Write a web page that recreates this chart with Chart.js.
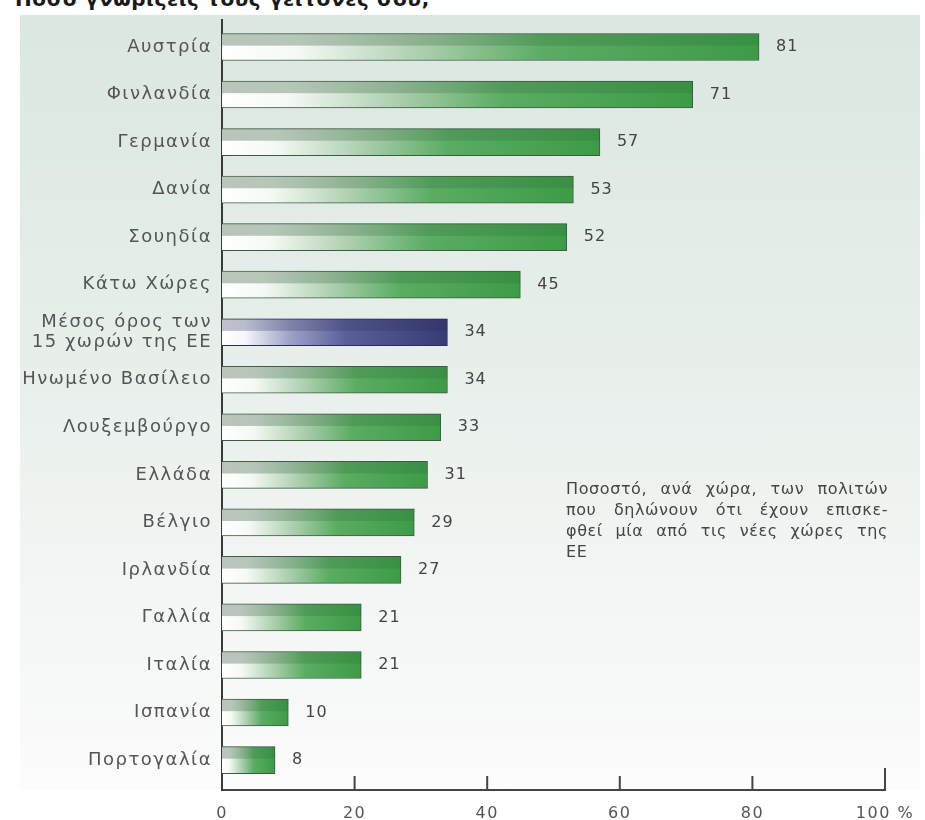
<!DOCTYPE html>
<html>
<head>
<meta charset="utf-8">
<script src="https://cdn.jsdelivr.net/npm/chart.js@4.4.0/dist/chart.umd.min.js"></script>
<style>
  html, body { margin:0; padding:0; background:#ffffff; width:925px; height:820px; overflow:hidden; }
  #tint { position:absolute; left:20px; top:15px; width:900px; height:775px;
          background:linear-gradient(to bottom, #dbe7e1 0%, #e8efeb 45%, #f3f6f4 75%, #fbfcfb 100%); }
  #title { position:absolute; left:15px; top:-13px; font:bold 20px "DejaVu Sans", sans-serif; color:#1a1a1a; letter-spacing:0.6px; white-space:nowrap; }
  #wrap { position:absolute; left:0; top:0; width:925px; height:820px; }
  #note { position:absolute; left:566px; top:478px; width:322px; font:16px "DejaVu Sans", sans-serif; color:#454545; line-height:21px; letter-spacing:0.6px; }
  #note div { text-align:justify; text-align-last:justify; white-space:nowrap; }
  #note div.last { text-align-last:left; }
</style>
</head>
<body>
<div id="tint"></div>
<div id="title">Πόσο γνωρίζεις τους γείτονές σου;</div>
<div id="wrap"><canvas id="c" width="925" height="820"></canvas></div>
<div id="note">
  <div>Ποσοστό, ανά χώρα, των πολιτών</div>
  <div>που δηλώνουν ότι έχουν επισκε-</div>
  <div>φθεί μία από τις νέες χώρες της</div>
  <div class="last">ΕΕ</div>
</div>
<script>
const categories = ['Αυστρία','Φινλανδία','Γερμανία','Δανία','Σουηδία','Κάτω Χώρες',
  ['Μέσος όρος των','15 χωρών της ΕΕ'],'Ηνωμένο Βασίλειο','Λουξεμβούργο','Ελλάδα',
  'Βέλγιο','Ιρλανδία','Γαλλία','Ιταλία','Ισπανία','Πορτογαλία'];
const values = [81,71,57,53,52,45,34,34,33,31,29,27,21,21,10,8];
const averageIndex = 6;
const xTicks = [0,20,40,60,80,100];

const FONT = '"DejaVu Sans", sans-serif';

function barFill(ctx) {
  const chart = ctx.chart;
  const xs = chart.scales.x;
  if (!xs || !chart.chartArea) return '#3e9b48';
  const x0 = xs.getPixelForValue(0);
  const x1 = xs.getPixelForValue(values[ctx.dataIndex]);
  const g = chart.ctx.createLinearGradient(x0, 0, x1, 0);
  if (ctx.dataIndex === averageIndex) {
    g.addColorStop(0, '#ffffff');
    g.addColorStop(0.1, '#f6f6fb');
    g.addColorStop(0.3, '#9ea2c8');
    g.addColorStop(0.55, '#5a5f98');
    g.addColorStop(1, '#383c74');
  } else {
    g.addColorStop(0, '#ffffff');
    g.addColorStop(0.14, '#f5f9f5');
    g.addColorStop(0.38, '#a9cdab');
    g.addColorStop(0.6, '#5aac62');
    g.addColorStop(1, '#3d9b47');
  }
  return g;
}

const decor = {
  id: 'decor',
  beforeDraw(chart) { chart.ctx.letterSpacing = '1.5px'; },
  afterDatasetsDraw(chart) {
    const ctx = chart.ctx;
    const meta = chart.getDatasetMeta(0);
    ctx.save();
    meta.data.forEach((el, i) => {
      const p = el.getProps(['x','y','base','height'], true);
      const left = p.base, right = p.x, top = p.y - p.height/2;
      const h = p.height * 0.45;
      const g = ctx.createLinearGradient(left, 0, right, 0);
      if (i === averageIndex) {
        g.addColorStop(0, 'rgba(70,75,120,0.35)');
        g.addColorStop(0.5, 'rgba(40,44,90,0.25)');
        g.addColorStop(1, 'rgba(30,32,70,0.2)');
      } else {
        g.addColorStop(0, 'rgba(90,115,95,0.42)');
        g.addColorStop(0.5, 'rgba(40,90,50,0.22)');
        g.addColorStop(1, 'rgba(30,80,40,0.15)');
      }
      ctx.fillStyle = g;
      ctx.fillRect(left, top, right - left, h);
      ctx.fillStyle = '#444444';
      ctx.font = '16px ' + FONT;
      ctx.letterSpacing = '1px';
      ctx.textAlign = 'left';
      ctx.textBaseline = 'middle';
      ctx.fillText(String(values[i]), right + 17, p.y);
    });
    ctx.restore();
  },
  afterDraw(chart) {
    const ctx = chart.ctx;
    const xs = chart.scales.x;
    const bottom = chart.chartArea.bottom;
    ctx.save();
    ctx.strokeStyle = '#444444';
    ctx.lineWidth = 2;
    xTicks.forEach(v => {
      if (v === 0) return;
      const x = xs.getPixelForValue(v);
      ctx.beginPath();
      ctx.moveTo(x, bottom);
      ctx.lineTo(x, bottom - (v === 100 ? 22 : 14));
      ctx.stroke();
    });
    ctx.restore();
  }
};

new Chart(document.getElementById('c'), {
  type: 'bar',
  data: {
    datasets: [{
      data: values.map((v, i) => ({ x: v, y: i })),
      backgroundColor: barFill,
      borderColor: ctx => ctx.dataIndex === averageIndex ? '#2a2d55' : '#3d5a44',
      borderWidth: 1,
      borderSkipped: 'start',
      barThickness: 27
    }]
  },
  options: {
    indexAxis: 'y',
    responsive: false,
    animation: false,
    devicePixelRatio: 1,
    layout: { padding: { left: 0, right: 40, top: 15, bottom: 0 } },
    plugins: { legend: { display: false }, tooltip: { enabled: false }, title: { display: false } },
    scales: {
      x: {
        type: 'linear', min: 0, max: 100,
        afterBuildTicks: s => { s.ticks = xTicks.map(v => ({ value: v })); },
        afterFit: s => { s.height = 30; },
        grid: { display: false, drawTicks: false },
        border: { display: true, color: '#444444', width: 2 },
        ticks: {
          padding: 14, color: '#555555', font: { family: FONT, size: 16 },
          callback: v => v === 100 ? '100 %' : String(v)
        }
      },
      y: {
        type: 'linear', reverse: true, offset: false, min: -0.57, max: 15.63,
        afterBuildTicks: s => { s.ticks = categories.map((c, i) => ({ value: i })); },
        afterFit: s => { s.width = 222; },
        grid: { display: false, drawTicks: false, offset: false },
        border: { display: true, color: '#3a3a3a', width: 2 },
        ticks: {
          padding: 10, color: '#555555', font: { family: FONT, size: 18, lineHeight: 1.1 },
          autoSkip: false,
          callback: v => categories[v]
        }
      }
    }
  },
  plugins: [decor]
});
</script>
</body>
</html>
